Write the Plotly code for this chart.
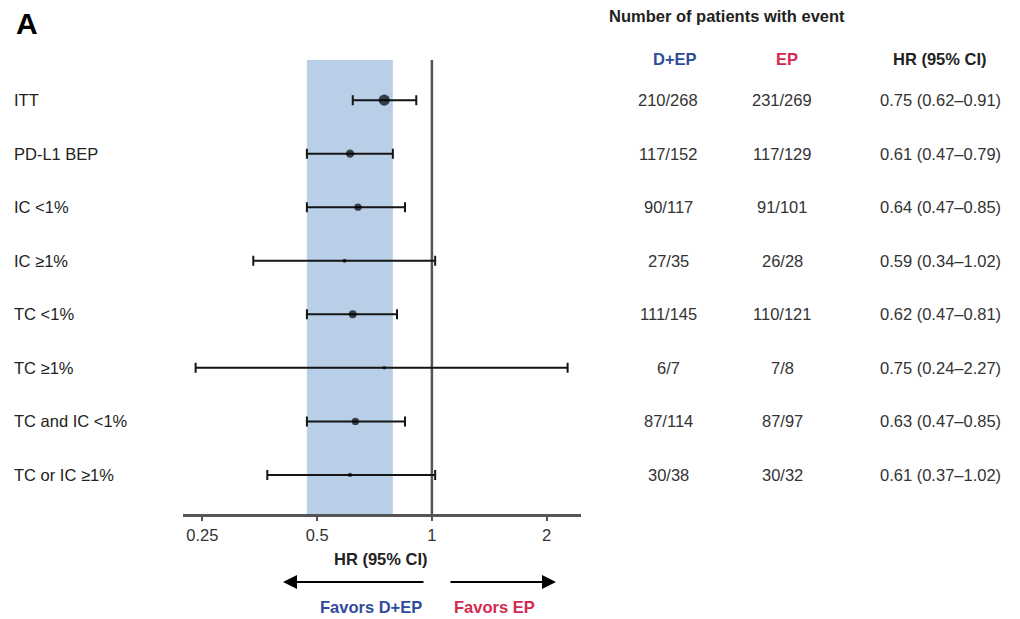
import math
import plotly.graph_objects as go

# Subgroup hazard ratios with 95% CIs and event counts
subgroups = ["ITT", "PD-L1 BEP", "IC <1%", "IC ≥1%", "TC <1%", "TC ≥1%",
             "TC and IC <1%", "TC or IC ≥1%"]
hr = [0.75, 0.61, 0.64, 0.59, 0.62, 0.75, 0.63, 0.61]
ci_low = [0.62, 0.47, 0.47, 0.34, 0.47, 0.24, 0.47, 0.37]
ci_high = [0.91, 0.79, 0.85, 1.02, 0.81, 2.27, 0.85, 1.02]
events_dep = ["210/268", "117/152", "90/117", "27/35", "111/145", "6/7", "87/114", "30/38"]
events_ep = ["231/269", "117/129", "91/101", "26/28", "110/121", "7/8", "87/97", "30/32"]
tick_vals = [0.25, 0.5, 1, 2]
tick_text = ["0.25", "0.5", "1", "2"]
band_row = "PD-L1 BEP"  # shaded band spans this subgroup's CI

W, H = 1020, 619
FONT = "Liberation Sans, Arial, sans-serif"
BLUE = "#2f4b9b"
RED = "#d52a50"

rows = list(range(len(subgroups)))
y_top, y_bot = -0.75, 7.73


def px(x):
    return x / W


def py(y):
    return 1 - y / H


fig = go.Figure()

# shaded reference band
bi = subgroups.index(band_row)
lo, hi = ci_low[bi], ci_high[bi]
fig.add_trace(go.Scatter(
    x=[lo, hi, hi, lo, lo], y=[y_top, y_top, y_bot, y_bot, y_top],
    mode="lines", fill="toself", fillcolor="#b9cfe8",
    line=dict(width=0), hoverinfo="skip", showlegend=False))

# line of no effect
fig.add_trace(go.Scatter(
    x=[1, 1], y=[y_top, y_bot], mode="lines",
    line=dict(color="#555555", width=2.5), hoverinfo="skip", showlegend=False))

# point estimates sized by precision of the estimate
sizes = [max(3.5, 4.3 / math.log(h / l)) for l, h in zip(ci_low, ci_high)]
fig.add_trace(go.Scatter(
    x=hr, y=rows, mode="markers",
    marker=dict(color="black", size=sizes, line=dict(width=0)),
    error_x=dict(type="data", symmetric=False,
                 array=[h - v for v, h in zip(hr, ci_high)],
                 arrayminus=[v - l for v, l in zip(hr, ci_low)],
                 color="#151515", thickness=2, width=5),
    showlegend=False))

ann = []
txt = dict(family=FONT, size=16.5, color="#222222")
num = dict(family=FONT, size=16.5, color="#333333")
bold = dict(family=FONT, size=16.5, color="#222222", weight="bold")

for i, name in enumerate(subgroups):
    ann.append(dict(x=px(12), y=i, xref="paper", yref="y", text=name,
                    xanchor="left", yanchor="middle", showarrow=False, font=txt))
    ann.append(dict(x=px(668), y=i, xref="paper", yref="y", text=events_dep[i],
                    xanchor="center", yanchor="middle", showarrow=False, font=num))
    ann.append(dict(x=px(782), y=i, xref="paper", yref="y", text=events_ep[i],
                    xanchor="center", yanchor="middle", showarrow=False, font=num))
    ann.append(dict(x=px(940), y=i, xref="paper", yref="y",
                    text=f"{hr[i]:.2f} ({ci_low[i]:.2f}–{ci_high[i]:.2f})",
                    xanchor="center", yanchor="middle", showarrow=False, font=num))

# panel letter and table headers
ann.append(dict(x=px(14), y=py(24), xref="paper", yref="paper", text="A",
                xanchor="left", yanchor="middle", showarrow=False,
                font=dict(family=FONT, size=30, color="black", weight="bold")))
ann.append(dict(x=px(607), y=py(16), xref="paper", yref="paper",
                text="Number of patients with event", xanchor="left",
                yanchor="middle", showarrow=False, font=bold))
ann.append(dict(x=px(675), y=py(59), xref="paper", yref="paper", text="D+EP",
                xanchor="center", yanchor="middle", showarrow=False,
                font=dict(bold, color=BLUE)))
ann.append(dict(x=px(787), y=py(59), xref="paper", yref="paper", text="EP",
                xanchor="center", yanchor="middle", showarrow=False,
                font=dict(bold, color=RED)))
ann.append(dict(x=px(940), y=py(59), xref="paper", yref="paper", text="HR (95% CI)",
                xanchor="center", yanchor="middle", showarrow=False, font=bold))

# axis title
ann.append(dict(x=px(381), y=py(559), xref="paper", yref="paper", text="HR (95% CI)",
                xanchor="center", yanchor="middle", showarrow=False, font=bold))

# direction arrows and labels
ann.append(dict(x=px(283), y=py(582), xref="paper", yref="paper", text="",
                showarrow=True, ax=142, ay=0, arrowhead=2, arrowsize=1.4,
                arrowwidth=2, arrowcolor="black"))
ann.append(dict(x=px(556), y=py(582), xref="paper", yref="paper", text="",
                showarrow=True, ax=-107, ay=0, arrowhead=2, arrowsize=1.4,
                arrowwidth=2, arrowcolor="black"))
ann.append(dict(x=px(371), y=py(607), xref="paper", yref="paper", text="Favors D+EP",
                xanchor="center", yanchor="middle", showarrow=False,
                font=dict(bold, color=BLUE)))
ann.append(dict(x=px(494), y=py(607), xref="paper", yref="paper", text="Favors EP",
                xanchor="center", yanchor="middle", showarrow=False,
                font=dict(bold, color=RED)))

fig.update_layout(
    width=W, height=H,
    margin=dict(l=0, r=0, t=0, b=0),
    paper_bgcolor="white", plot_bgcolor="white",
    annotations=ann,
    xaxis=dict(type="log", domain=[px(183), px(581)],
               range=[math.log10(0.2224), math.log10(2.461)],
               tickvals=tick_vals, ticktext=tick_text,
               ticks="outside", ticklen=4, tickwidth=1.5, tickcolor="#555555",
               showline=True, linecolor="#555555", linewidth=2.5,
               showgrid=False, zeroline=False,
               tickfont=dict(family=FONT, size=16.5, color="#333333")),
    yaxis=dict(domain=[py(514), py(60)], range=[y_bot, y_top],
               visible=False, showgrid=False, zeroline=False),
)

fig.write_html("out.html")
